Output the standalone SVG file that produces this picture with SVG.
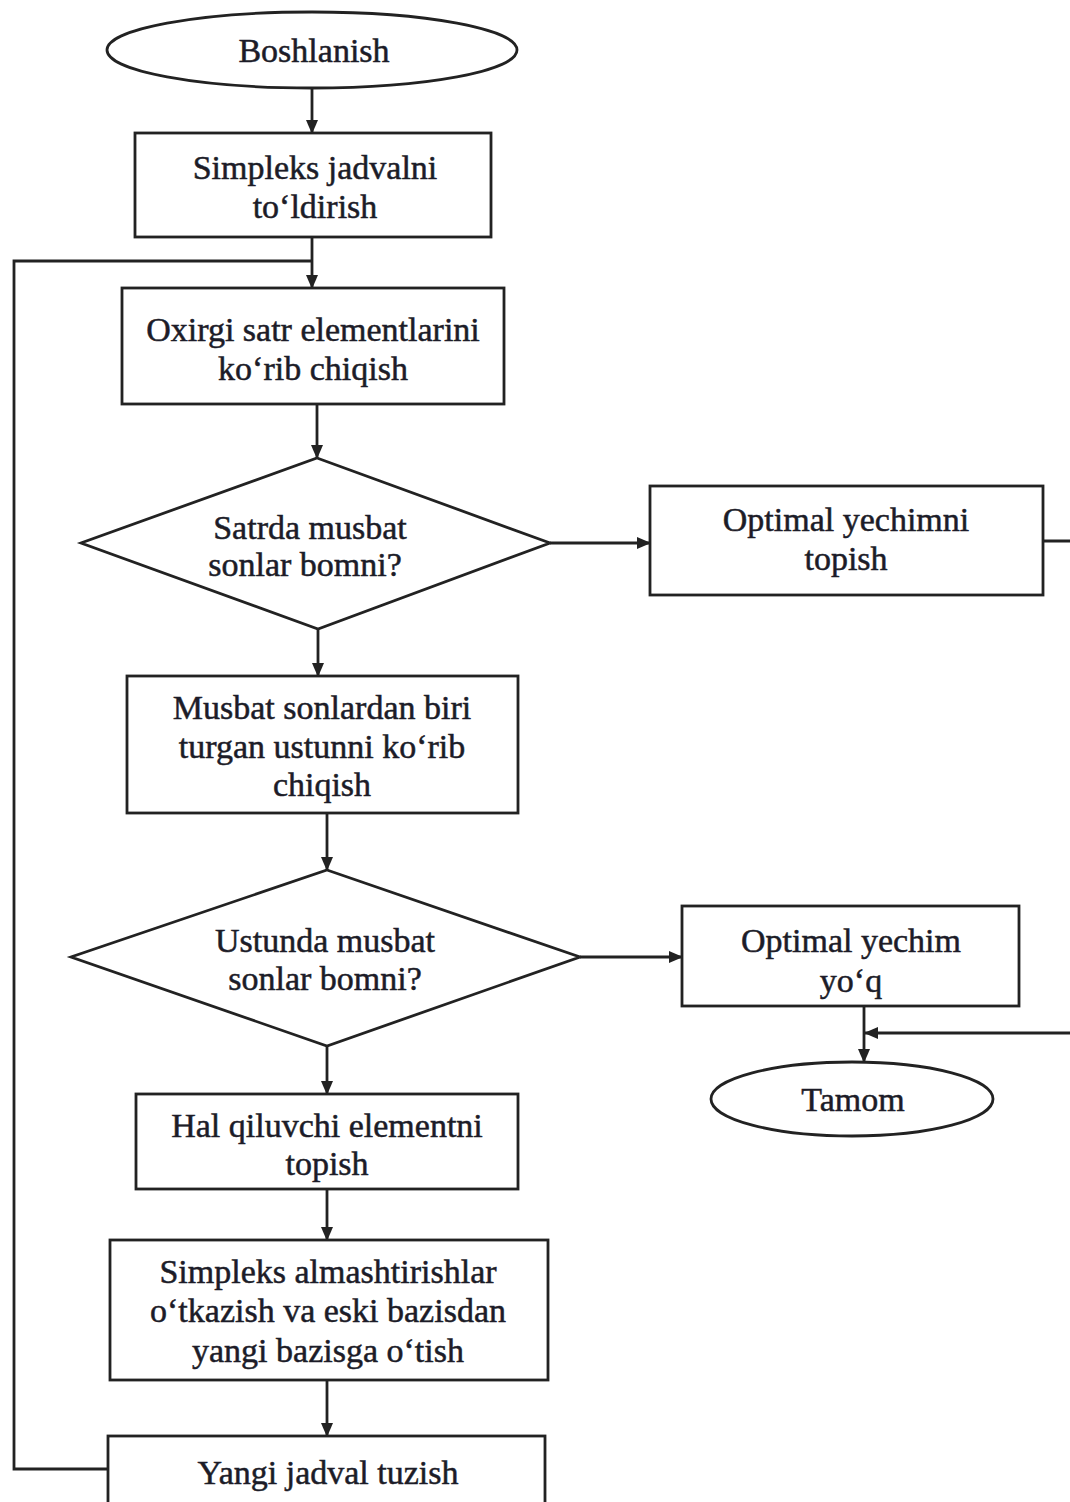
<svg xmlns="http://www.w3.org/2000/svg" width="1070" height="1502" viewBox="0 0 1070 1502">
<defs>
<style>
.s{fill:#fff;stroke:#222;stroke-width:2.8}
.c{fill:none;stroke:#222;stroke-width:2.8}
.t{font-family:"Liberation Serif","Times New Roman",serif;font-size:34px;fill:#1c1c28;stroke:#1c1c28;stroke-width:0.5;text-anchor:middle}
</style>
<marker id="a" markerWidth="14" markerHeight="12" refX="13" refY="6" orient="auto" markerUnits="userSpaceOnUse">
<path d="M0,0 L14,6 L0,12 Z" fill="#222"/>
</marker>
</defs>
<rect width="1070" height="1502" fill="#fff"/>
<g id="connectors">
<path class="c" d="M312,88 V133" marker-end="url(#a)"/>
<path class="c" d="M312,237 V288" marker-end="url(#a)"/>
<path class="c" d="M108,1469 H14 V261 H312"/>
<path class="c" d="M317,404 V458" marker-end="url(#a)"/>
<path class="c" d="M550,543 H650" marker-end="url(#a)"/>
<path class="c" d="M1043,541 H1080"/>
<path class="c" d="M318,629 V676" marker-end="url(#a)"/>
<path class="c" d="M327,813 V870" marker-end="url(#a)"/>
<path class="c" d="M580,957 H682" marker-end="url(#a)"/>
<path class="c" d="M864,1006 V1062" marker-end="url(#a)"/>
<path class="c" d="M1080,1033 H865" marker-end="url(#a)"/>
<path class="c" d="M327,1046 V1094" marker-end="url(#a)"/>
<path class="c" d="M327,1189 V1240" marker-end="url(#a)"/>
<path class="c" d="M327,1380 V1436" marker-end="url(#a)"/>
</g>
<g id="start">
<ellipse class="s" cx="312" cy="50" rx="205" ry="38"/>
<text class="t" x="314" y="62">Boshlanish</text>
</g>
<g id="fill-table">
<rect class="s" x="135" y="133" width="356" height="104"/>
<text class="t" x="315" y="179">Simpleks jadvalni</text>
<text class="t" x="315" y="218">to‘ldirish</text>
</g>
<g id="last-row">
<rect class="s" x="122" y="288" width="382" height="116"/>
<text class="t" x="313" y="341">Oxirgi satr elementlarini</text>
<text class="t" x="313" y="380">ko‘rib chiqish</text>
</g>
<g id="row-positive">
<polygon class="s" points="317,458 550,543 318,629 81,543"/>
<text class="t" x="310" y="539">Satrda musbat</text>
<text class="t" x="305" y="576">sonlar bomni?</text>
</g>
<g id="optimal-found">
<rect class="s" x="650" y="486" width="393" height="109"/>
<text class="t" x="846" y="531">Optimal yechimni</text>
<text class="t" x="846" y="570">topish</text>
</g>
<g id="column-view">
<rect class="s" x="127" y="676" width="391" height="137"/>
<text class="t" x="322" y="719">Musbat sonlardan biri</text>
<text class="t" x="322" y="758">turgan ustunni ko‘rib</text>
<text class="t" x="322" y="796">chiqish</text>
</g>
<g id="column-positive">
<polygon class="s" points="327,870 580,957 327,1046 71,957"/>
<text class="t" x="325" y="952">Ustunda musbat</text>
<text class="t" x="325" y="990">sonlar bomni?</text>
</g>
<g id="no-optimal">
<rect class="s" x="682" y="906" width="337" height="100"/>
<text class="t" x="851" y="952">Optimal yechim</text>
<text class="t" x="851" y="992">yo‘q</text>
</g>
<g id="end">
<ellipse class="s" cx="852" cy="1099" rx="141" ry="37"/>
<text class="t" x="853" y="1111">Tamom</text>
</g>
<g id="pivot">
<rect class="s" x="136" y="1094" width="382" height="95"/>
<text class="t" x="327" y="1137">Hal qiluvchi elementni</text>
<text class="t" x="327" y="1175">topish</text>
</g>
<g id="simplex-transform">
<rect class="s" x="110" y="1240" width="438" height="140"/>
<text class="t" x="328" y="1283">Simpleks almashtirishlar</text>
<text class="t" x="328" y="1322">o‘tkazish va eski bazisdan</text>
<text class="t" x="328" y="1362">yangi bazisga o‘tish</text>
</g>
<g id="new-table">
<rect class="s" x="108" y="1436" width="437" height="80"/>
<text class="t" x="328" y="1484">Yangi jadval tuzish</text>
</g>
</svg>
